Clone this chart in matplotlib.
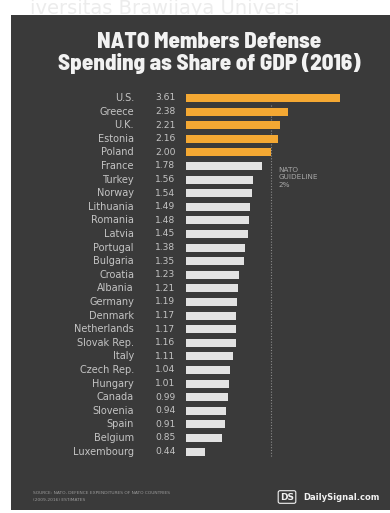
import matplotlib
matplotlib.use("Agg")
import matplotlib.pyplot as plt
from matplotlib.transforms import blended_transform_factory
from matplotlib.patches import Rectangle

countries = ["U.S.", "Greece", "U.K.", "Estonia", "Poland", "France", "Turkey", "Norway",
             "Lithuania", "Romania", "Latvia", "Portugal", "Bulgaria", "Croatia", "Albania",
             "Germany", "Denmark", "Netherlands", "Slovak Rep.", "Italy", "Czech Rep.",
             "Hungary", "Canada", "Slovenia", "Spain", "Belgium", "Luxembourg"]
values = [3.61, 2.38, 2.21, 2.16, 2.00, 1.78, 1.56, 1.54, 1.49, 1.48, 1.45, 1.38, 1.35,
          1.23, 1.21, 1.19, 1.17, 1.17, 1.16, 1.11, 1.04, 1.01, 0.99, 0.94, 0.91, 0.85, 0.44]
guideline = 2.0

BG = "#3a3a3a"
ORANGE = "#f4a833"
WHITE_BAR = "#e2e2e2"
TXT = "#c4c4c4"
TITLE_FONT = ["Barlow Semi Condensed", "Barlow Condensed", "DejaVu Sans"]
LABEL_FONT = ["DejaVu Sans"]

W, H = 390, 513
fig = plt.figure(figsize=(W / 100, H / 100), dpi=100)
fig.patch.set_facecolor("white")

fig.patches.append(Rectangle((11 / W, 3 / H), 1 - 11 / W, 1 - 3 / H - 15 / H,
                             transform=fig.transFigure, facecolor=BG, edgecolor="none", zorder=-5))
# faint watermark on the top strip
fig.text(30 / W, 1 - 14 / H, "iversitas Brawijaya Universi", ha="left", va="baseline",
         fontsize=14, color="#ececec", family=["DejaVu Sans"], zorder=-10)

# title
fig.text(209 / W, 1 - 48 / H, "NATO Members Defense", ha="center", va="baseline",
         fontsize=16.5, weight=800, color="#f2f2f2", family=TITLE_FONT)
fig.text(209 / W, 1 - 70 / H, "Spending as Share of GDP (2016)", ha="center", va="baseline",
         fontsize=16.5, weight=800, color="#f2f2f2", family=TITLE_FONT)

n = len(countries)
row = 13.6
top_px = 98 - row / 2
bot_px = top_px + row * n
x0_px, x1_px = 186, 384
scale = 42.7
ax = fig.add_axes([x0_px / W, 1 - bot_px / H, (x1_px - x0_px) / W, (bot_px - top_px) / H])
ax.set_facecolor("none")
ax.set_xlim(0, (x1_px - x0_px) / scale)
ax.set_ylim(n - 0.5, -0.5)
ax.axis("off")

ypos = list(range(n))
colors = [ORANGE if v >= guideline else WHITE_BAR for v in values]
ax.barh(ypos, values, height=0.6, color=colors, zorder=2)
ax.plot([guideline, guideline], [0.5, n - 0.4], ls=(0, (1, 1.5)), lw=0.8, color="#8a8a8a", zorder=1)
ax.text(guideline + 0.17, 5.05, "NATO\nGUIDELINE\n2%", ha="left", va="top", fontsize=5.2,
        color="#a8a8a8", linespacing=1.3, family=LABEL_FONT)

tr = blended_transform_factory(fig.transFigure, ax.transData)
for i, (c, v) in enumerate(zip(countries, values)):
    ax.text(134 / W, i, c, transform=tr, ha="right", va="center", fontsize=7,
            color=TXT, family=LABEL_FONT)
    ax.text(155 / W, i, f"{v:.2f}", transform=tr, ha="left", va="center", fontsize=6.6,
            color=TXT, family=LABEL_FONT)

# footer
fig.text(33 / W, 1 - 493 / H, "SOURCE: NATO, DEFENCE EXPENDITURES OF NATO COUNTRIES", ha="left",
         va="center", fontsize=3.2, color="#9a9a9a", family=LABEL_FONT)
fig.text(33 / W, 1 - 500 / H, "(2009-2016) ESTIMATES", ha="left",
         va="center", fontsize=3.2, color="#9a9a9a", family=LABEL_FONT)
fig.text(380 / W, 1 - 497 / H, "DailySignal.com", ha="right", va="center", fontsize=6,
         weight="bold", color="#f2f2f2", family=LABEL_FONT)
fig.text(287 / W, 1 - 497 / H, "DS", ha="center", va="center", fontsize=6.5,
         weight="bold", color="#f2f2f2", family=LABEL_FONT,
         bbox=dict(boxstyle="round,pad=0.2", fc="none", ec="#f2f2f2", lw=0.8))

fig.savefig("out.png", dpi=100, facecolor=fig.get_facecolor())
